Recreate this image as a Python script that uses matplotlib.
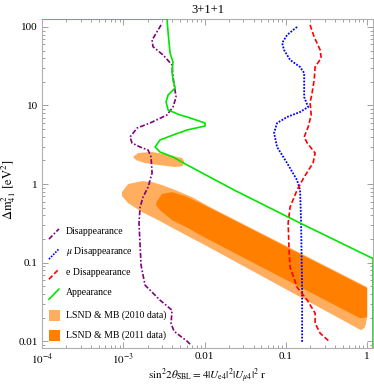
import numpy as np
import matplotlib
matplotlib.use('Agg')
import matplotlib.pyplot as plt
from matplotlib.ticker import FixedLocator, FixedFormatter, LogLocator, NullFormatter
from matplotlib.patches import Rectangle

plt.rcParams['font.family'] = ['Liberation Serif', 'DejaVu Serif']
plt.rcParams['mathtext.fontset'] = 'stix'

# --- data (sin^2 2theta, dm^2) ---
dis_x = [0.00292, 0.00226, 0.00232, 0.00308, 0.00398, 0.00409, 0.00446, 0.00409, 0.00345, 0.00213,
         0.00148, 0.00121, 0.00128, 0.00161, 0.00202, 0.002196, 0.00226, 0.00202, 0.00175, 0.00161,
         0.00156, 0.00161, 0.001654, 0.001853, 0.00283, 0.00398, 0.00387, 0.00421, 0.0061, 0.00682]
dis_y = [106, 68, 56, 44, 32.8, 23, 12.8, 9.57, 7.57, 5.98,
         5.17, 3.97, 3.33, 2.96, 2.71, 2.21, 1.38, 0.916, 0.683, 0.509,
         0.319, 0.167, 0.0929, 0.0517, 0.0333, 0.0248, 0.0169, 0.0134, 0.01, 0.00889]

mu_x = [0.1374, 0.1035, 0.090, 0.095, 0.1127, 0.1496, 0.168, 0.168, 0.168, 0.188, 0.1496,
        0.1035, 0.078, 0.0716, 0.078, 0.1035, 0.1374, 0.1496, 0.154, 0.1585, 0.1585]
mu_y = [100, 79, 62.5, 50.9, 38, 30.9, 25.9, 19.4, 12.8, 9.57, 8.26,
        7.14, 5.98, 4.47, 2.96, 1.85, 1.12, 0.84, 0.319, 0.0446, 0.00944]

e_x = [0.1986, 0.223, 0.264, 0.272, 0.229, 0.223, 0.210, 0.1986, 0.205, 0.188, 0.168, 0.183, 0.229,
       0.216, 0.168, 0.1374, 0.1127, 0.1067, 0.1095, 0.1127, 0.1374, 0.183, 0.229, 0.229, 0.264, 0.351]
e_y = [106, 74.6, 50.9, 40.3, 30.9, 21.1, 14.4, 10.8, 7.57, 5.32, 3.97, 3.33, 2.48,
       1.85, 1.23, 0.84, 0.509, 0.319, 0.144, 0.0877, 0.0488, 0.0333, 0.0228, 0.0169, 0.01265, 0.0097]

app_x = [1e-4, 0.00345, 0.00356, 0.00376, 0.00409, 0.00398, 0.00409, 0.00434, 0.00356, 0.00336,
         0.00356, 0.00499, 0.0061, 0.01014, 0.01014, 0.0061, 0.00409, 0.00283, 0.00246, 0.00283,
         0.00409, 0.0061, 0.0231, 0.1496, 1.153, 1.18, 1.18]
app_y = [126.5, 126.5, 83.9, 46.6, 35.8, 26.7, 21.1, 16.7, 13.6, 11.1,
         8.77, 7.57, 7.14, 5.98, 5.48, 4.88, 4.21, 3.64, 2.96, 2.56,
         2.21, 1.75, 0.84, 0.319, 0.114, 0.112, 0.005]

lsnd10_x = [0.000965, 0.001145, 0.001702, 0.00226, 0.003, 0.00434, 0.00702, 0.01169, 1.0, 1.0,
            0.944, 0.843, 0.01014, 0.00529, 0.00268, 0.001702, 0.001145, 0.000965]
lsnd10_y = [0.791, 1.0, 1.09, 1.06, 0.971, 0.84, 0.683, 0.509, 0.0488, 0.0202,
            0.0151, 0.0138, 0.167, 0.238, 0.348, 0.44, 0.573, 0.703]

island_x = [0.001318, 0.00152, 0.00226, 0.00326, 0.00529, 0.0056, 0.00543, 0.00434, 0.00268, 0.001853, 0.001436]
island_y = [2.21, 2.48, 2.56, 2.41, 2.14, 1.96, 1.70, 1.65, 1.75, 1.85, 2.02]

lsnd11_x = [0.0026, 0.003, 0.00398, 0.00575, 0.00881, 1.0, 1.0, 0.82, 0.00881, 0.00627, 0.00398, 0.00283, 0.00253]
lsnd11_y = [0.607, 0.746, 0.791, 0.703, 0.573, 0.0473, 0.0202, 0.0196, 0.224, 0.275, 0.348, 0.466, 0.54]

xticks = [1e-4, 1e-3, 1e-2, 0.1, 1]
xticklabels = ['$10^{-4}$', '$10^{-3}$', '0.01', '0.1', '1']
yticks = [0.01, 0.1, 1, 10, 100]
yticklabels = ['0.01', '0.1', '1', '10', '100']

light = '#FFAD5E'
dark = '#FF8000'
purple = '#800080'
green = '#00E600'

fig = plt.figure(figsize=(3.74, 3.85), dpi=100)
ax = fig.add_axes([0.1123, 0.0961, 0.885, 0.8545])
ax.set_xscale('log')
ax.set_yscale('log')

ax.fill(lsnd10_x, lsnd10_y, color=light, lw=0, zorder=1)
ax.fill(island_x, island_y, color=light, lw=0, zorder=1)
ax.fill(lsnd11_x, lsnd11_y, color=dark, lw=0, zorder=1.1)

ax.plot(dis_x, dis_y, color=purple, lw=1.2, ls=(0, (3, 1.2, 1, 1.2)), zorder=3)
ax.plot(mu_x, mu_y, color='#0000FF', lw=1.3, ls=(0, (1, 0.8)), zorder=3)
ax.plot(e_x, e_y, color='#FF0000', lw=1.2, ls=(0, (3, 1.5)), zorder=3)
ax.plot(app_x, app_y, color=green, lw=1.2, zorder=3)

ax.set_xlim(1e-4, 1.18)
ax.set_ylim(0.0082, 126)

ax.xaxis.set_major_locator(FixedLocator(xticks))
ax.xaxis.set_major_formatter(FixedFormatter(xticklabels))
ax.yaxis.set_major_locator(FixedLocator(yticks))
ax.yaxis.set_major_formatter(FixedFormatter(yticklabels))
ax.xaxis.set_minor_locator(LogLocator(base=10, subs=np.arange(2, 10)))
ax.yaxis.set_minor_locator(LogLocator(base=10, subs=np.arange(2, 10)))
ax.xaxis.set_minor_formatter(NullFormatter())
ax.yaxis.set_minor_formatter(NullFormatter())

ax.tick_params(which='both', direction='in', top=True, right=True, color='#A0A0A0', width=0.7, labelsize=8)
ax.tick_params(which='major', length=4, pad=3)
ax.tick_params(which='minor', length=2)
for s in ax.spines.values():
    s.set_color('#B0B0B0')
    s.set_linewidth(0.8)

ax.set_title('3+1+1', fontsize=9, pad=4)
ax.set_xlabel(r'$\mathrm{sin}^2 2\theta_{\mathrm{SBL}} = 4|U_{\mathrm{e}4}|^2|U_{\mu 4}|^2\ \mathrm{r}$', fontsize=8)
ax.xaxis.set_label_coords(0.5, -0.056)
ax.set_ylabel(r'$\Delta \mathrm{m}^2_{41}\ [\mathrm{eV}^2]$', fontsize=9)
ax.yaxis.set_label_coords(-0.072, 0.48)

# legend, drawn by hand (diagonal line handles)
entries = [('Disappearance', purple, (0, (3, 1.2, 1, 1.2))),
           (r'$\mu$ Disappearance', '#0000FF', (0, (1, 0.8))),
           ('e Disappearance', '#FF0000', (0, (3, 1.5))),
           ('Appearance', green, '-')]
ys = [0.353, 0.292, 0.231, 0.170]
for (lab, c, ls), yy in zip(entries, ys):
    ax.plot([0.021, 0.051], [yy - 0.022, yy + 0.009], color=c, ls=ls, lw=1.2, transform=ax.transAxes, zorder=4)
    ax.text(0.0725, yy, lab, fontsize=7, va='center', ha='left', transform=ax.transAxes)
for lab, c, yy in [('LSND & MB (2010 data)', light, 0.099), ('LSND & MB (2011 data)', dark, 0.039)]:
    ax.add_patch(Rectangle((0.021, yy - 0.017), 0.033, 0.034, color=c, lw=0, transform=ax.transAxes, zorder=4))
    ax.text(0.0725, yy, lab, fontsize=7, va='center', ha='left', transform=ax.transAxes)

fig.savefig('out.png', dpi=100)
